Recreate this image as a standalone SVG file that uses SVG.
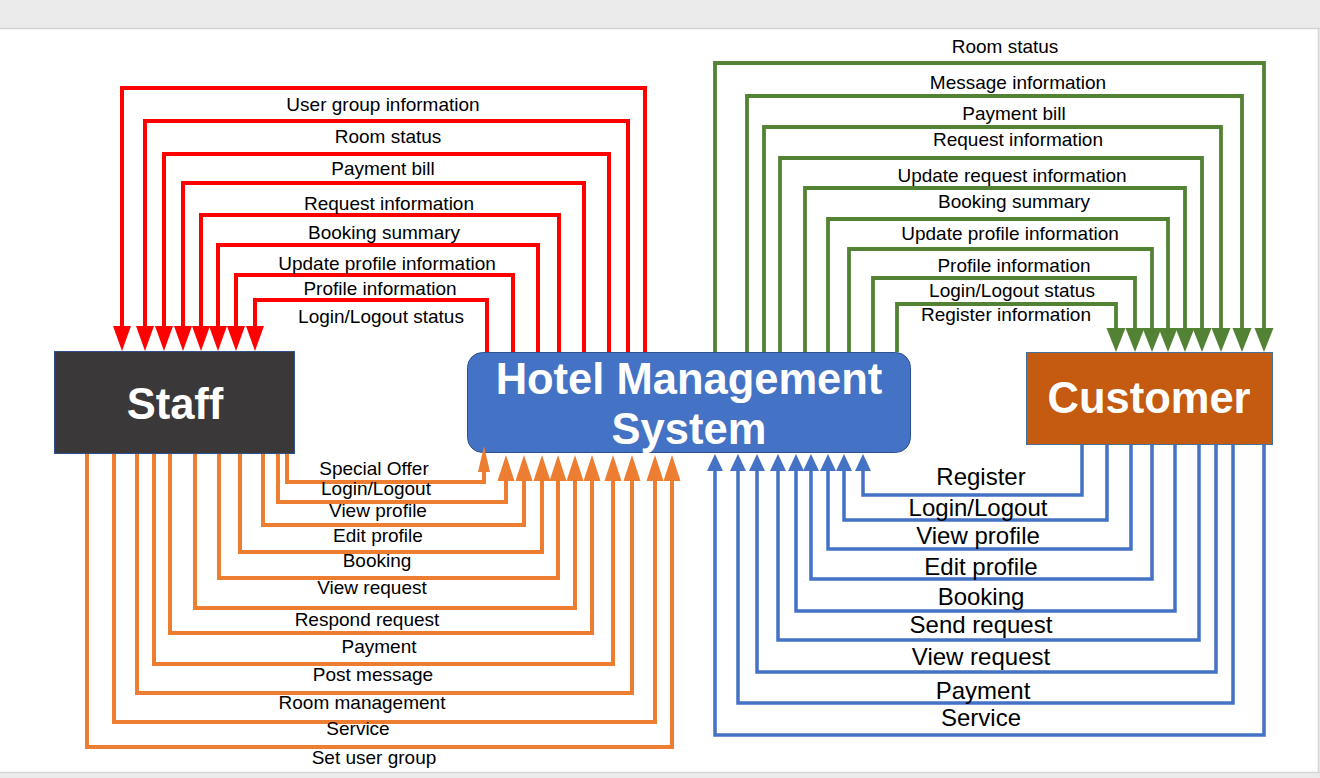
<svg xmlns="http://www.w3.org/2000/svg" width="1320" height="778" viewBox="0 0 1320 778">
<style>
.lbl{font-family:"Liberation Sans",Arial,sans-serif;font-size:19px;fill:#000;text-anchor:middle}
.big{font-size:24px}
.node-t{font-family:"Liberation Sans",Arial,sans-serif;font-weight:bold;font-size:43.5px;fill:#fff;text-anchor:middle}
.red{fill:none;stroke:#ff0000;stroke-width:4}
.grn{fill:none;stroke:#548235;stroke-width:3.8}
.org{fill:none;stroke:#ed7d31;stroke-width:4}
.blu{fill:none;stroke:#4472c4;stroke-width:3.5}
</style>
<defs>
<marker id="aRed" markerUnits="userSpaceOnUse" orient="auto" markerWidth="30" markerHeight="24" refX="0" refY="12" viewBox="0 0 30 24" overflow="visible"><path d="M0,3 L25,12 L0,21 z" fill="#ff0000"/></marker>
<marker id="aGrn" markerUnits="userSpaceOnUse" orient="auto" markerWidth="30" markerHeight="24" refX="0" refY="12" viewBox="0 0 30 24" overflow="visible"><path d="M0,2.5 L24,12 L0,21.5 z" fill="#548235"/></marker>
<marker id="aOrg" markerUnits="userSpaceOnUse" orient="auto" markerWidth="30" markerHeight="24" refX="0" refY="12" viewBox="0 0 30 24" overflow="visible"><path d="M0,3.5 L26,12 L0,20.5 z" fill="#ed7d31"/></marker>
<marker id="aOrgS" markerUnits="userSpaceOnUse" orient="auto" markerWidth="30" markerHeight="24" refX="0" refY="12" viewBox="0 0 30 24" overflow="visible"><path d="M0,6 L26,12 L0,18 z" fill="#ed7d31"/></marker>
<marker id="aBlu" markerUnits="userSpaceOnUse" orient="auto" markerWidth="30" markerHeight="24" refX="0" refY="12" viewBox="0 0 30 24" overflow="visible"><path d="M0,4 L17,12 L0,20 z" fill="#4472c4"/></marker>
</defs>
<g id="page">
<rect x="0" y="0" width="1320" height="778" fill="#ebebeb"/>
<rect x="0" y="29" width="1318" height="743" fill="#ffffff"/>
<line x1="0" y1="28.5" x2="1320" y2="28.5" stroke="#d2d2d2" stroke-width="1.5"/>
<line x1="1318.5" y1="29" x2="1318.5" y2="772" stroke="#d6d6d6" stroke-width="1.5"/>
<line x1="0" y1="772.5" x2="1320" y2="772.5" stroke="#d6d6d6" stroke-width="1.5"/>
</g>
<g id="node-staff">
<rect x="54.5" y="351.5" width="240" height="102" fill="#3a3838" stroke="#2f528f" stroke-width="1"/>
<text class="node-t" x="175" y="419" font-size="44">Staff</text>
</g>
<g id="node-hms">
<rect x="467.5" y="352.5" width="443" height="100" rx="15" fill="#4472c4" stroke="#2f528f" stroke-width="1"/>
<text class="node-t" x="689" y="394">Hotel Management</text>
<text class="node-t" x="689" y="444">System</text>
</g>
<g id="node-customer">
<rect x="1026.5" y="352.5" width="246" height="92" fill="#c55a11" stroke="#41719c" stroke-width="1"/>
<text class="node-t" x="1149" y="413">Customer</text>
</g>
<g id="connectors">
<g id="staff-in">
<path class="red" marker-end="url(#aRed)" d="M645,352 V88 H122 V326"/>
<path class="red" marker-end="url(#aRed)" d="M628,352 V121 H145 V326"/>
<path class="red" marker-end="url(#aRed)" d="M609,352 V154 H164 V326"/>
<path class="red" marker-end="url(#aRed)" d="M584,352 V183 H183 V326"/>
<path class="red" marker-end="url(#aRed)" d="M559,352 V215 H201 V326"/>
<path class="red" marker-end="url(#aRed)" d="M538,352 V245 H218 V326"/>
<path class="red" marker-end="url(#aRed)" d="M513,352 V275 H236 V326"/>
<path class="red" marker-end="url(#aRed)" d="M487,352 V300 H255 V326"/>
</g>
<g id="customer-in">
<path class="grn" marker-end="url(#aGrn)" d="M715,352 V63 H1264 V328"/>
<path class="grn" marker-end="url(#aGrn)" d="M747,352 V96 H1242 V328"/>
<path class="grn" marker-end="url(#aGrn)" d="M764,352 V127 H1221 V328"/>
<path class="grn" marker-end="url(#aGrn)" d="M780,352 V158 H1202 V328"/>
<path class="grn" marker-end="url(#aGrn)" d="M805,352 V188 H1185 V328"/>
<path class="grn" marker-end="url(#aGrn)" d="M828,352 V219 H1168 V328"/>
<path class="grn" marker-end="url(#aGrn)" d="M849,352 V249 H1152 V328"/>
<path class="grn" marker-end="url(#aGrn)" d="M873,352 V278 H1135 V328"/>
<path class="grn" marker-end="url(#aGrn)" d="M897,352 V304 H1116 V328"/>
</g>
<g id="staff-out">
<path class="org" marker-end="url(#aOrgS)" d="M287,454 V482 H484 V472"/>
<path class="org" marker-end="url(#aOrg)" d="M278,454 V502 H506 V481"/>
<path class="org" marker-end="url(#aOrg)" d="M263,454 V525 H524 V481"/>
<path class="org" marker-end="url(#aOrg)" d="M240,454 V552 H542 V481"/>
<path class="org" marker-end="url(#aOrg)" d="M219,454 V578 H558 V481"/>
<path class="org" marker-end="url(#aOrg)" d="M195,454 V608 H575 V481"/>
<path class="org" marker-end="url(#aOrg)" d="M170,454 V633 H592 V481"/>
<path class="org" marker-end="url(#aOrg)" d="M154,454 V664 H613 V481"/>
<path class="org" marker-end="url(#aOrg)" d="M137,454 V693 H632 V481"/>
<path class="org" marker-end="url(#aOrg)" d="M114,454 V722 H655 V481"/>
<path class="org" marker-end="url(#aOrg)" d="M87,454 V747 H672 V481"/>
</g>
<g id="customer-out">
<path class="blu" marker-end="url(#aBlu)" d="M1082,445 V495 H863 V471"/>
<path class="blu" marker-end="url(#aBlu)" d="M1107,445 V520 H844 V471"/>
<path class="blu" marker-end="url(#aBlu)" d="M1131,445 V549 H828 V471"/>
<path class="blu" marker-end="url(#aBlu)" d="M1152,445 V579 H811 V471"/>
<path class="blu" marker-end="url(#aBlu)" d="M1175,445 V611 H796 V471"/>
<path class="blu" marker-end="url(#aBlu)" d="M1199,445 V640 H778 V471"/>
<path class="blu" marker-end="url(#aBlu)" d="M1216,445 V672 H757 V471"/>
<path class="blu" marker-end="url(#aBlu)" d="M1233,445 V703 H738 V471"/>
<path class="blu" marker-end="url(#aBlu)" d="M1264,445 V735 H715 V471"/>
</g>
</g>
<g id="labels">
<text class="lbl" x="383" y="111">User group information</text>
<text class="lbl" x="388" y="143">Room status</text>
<text class="lbl" x="383" y="175">Payment bill</text>
<text class="lbl" x="389" y="210">Request information</text>
<text class="lbl" x="384" y="239">Booking summary</text>
<text class="lbl" x="387" y="270">Update profile information</text>
<text class="lbl" x="380" y="295">Profile information</text>
<text class="lbl" x="381" y="323">Login/Logout status</text>

<text class="lbl" x="1005" y="53">Room status</text>
<text class="lbl" x="1018" y="89">Message information</text>
<text class="lbl" x="1014" y="120">Payment bill</text>
<text class="lbl" x="1018" y="146">Request information</text>
<text class="lbl" x="1012" y="182">Update request information</text>
<text class="lbl" x="1014" y="208">Booking summary</text>
<text class="lbl" x="1010" y="240">Update profile information</text>
<text class="lbl" x="1014" y="272">Profile information</text>
<text class="lbl" x="1012" y="297">Login/Logout status</text>
<text class="lbl" x="1006" y="321">Register information</text>

<text class="lbl" x="374" y="475">Special Offer</text>
<text class="lbl" x="376" y="495">Login/Logout</text>
<text class="lbl" x="378" y="517">View profile</text>
<text class="lbl" x="378" y="542">Edit profile</text>
<text class="lbl" x="377" y="567">Booking</text>
<text class="lbl" x="372" y="594">View request</text>
<text class="lbl" x="367" y="626">Respond request</text>
<text class="lbl" x="379" y="653">Payment</text>
<text class="lbl" x="373" y="681">Post message</text>
<text class="lbl" x="362" y="709">Room management</text>
<text class="lbl" x="358" y="735">Service</text>
<text class="lbl" x="374" y="764">Set user group</text>

<text class="lbl big" x="981" y="485">Register</text>
<text class="lbl big" x="978" y="516">Login/Logout</text>
<text class="lbl big" x="978" y="544">View profile</text>
<text class="lbl big" x="981" y="575">Edit profile</text>
<text class="lbl big" x="981" y="605">Booking</text>
<text class="lbl big" x="981" y="633">Send request</text>
<text class="lbl big" x="981" y="665">View request</text>
<text class="lbl big" x="983" y="699">Payment</text>
<text class="lbl big" x="981" y="726">Service</text>
</g>
</svg>
